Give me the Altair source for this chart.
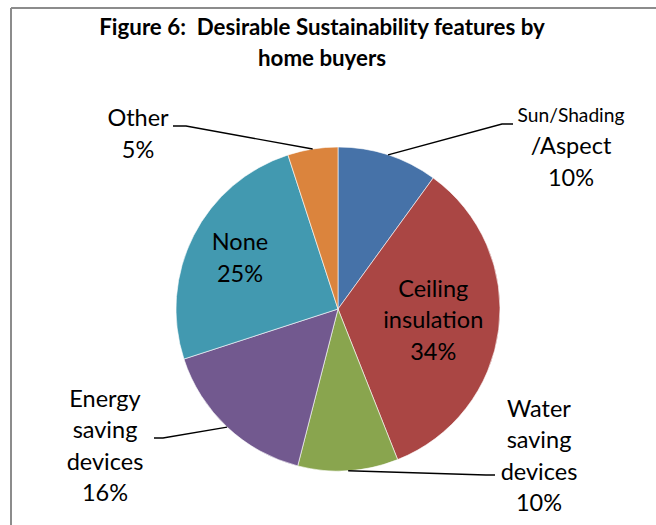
import math

import altair as alt
import pandas as pd

# ---- data -------------------------------------------------------------
categories = [
    "Sun/Shading\n/Aspect",
    "Ceiling\ninsulation",
    "Water\nsaving\ndevices",
    "Energy\nsaving\ndevices",
    "None",
    "Other",
]
shares = [10, 34, 10, 16, 25, 5]
colors = ["#4672A8", "#AA4644", "#89A54E", "#72598F", "#4299B0", "#DB843D"]
title_lines = ["Figure 6:\u00a0 Desirable Sustainability features by", "home buyers"]

# ---- layout (pixels, relative to the pie centre) ------------------------
W, H = 656, 525
CX, CY = 338, 309          # pie centre on the page
R = 162                    # pie radius
FONT = "Lato"
LABEL_SIZE = 23.5
SMALL_SIZE = 19.2
TITLE_SIZE = 22.3
LINE_H = 31.5

# labels drawn inside their slice: distance from the centre along the mid-angle
INSIDE_R = {"Ceiling\ninsulation": 96, "None": 110}
# labels drawn outside: block centre, leader elbow, leader end
OUTSIDE = {
    "Sun/Shading\n/Aspect": ((233, -162), (164, -185), (175, -185)),
    "Water\nsaving\ndevices": ((201, 148), (148, 166), (157, 166)),
    "Energy\nsaving\ndevices": ((-233, 138), (-175, 129), (-184, 129)),
    "Other": ((-200, -174), (-152, -183), (-165, -183)),
}
SMALL_FIRST_LINE = {"Sun/Shading\n/Aspect"}
TITLE_XY = (-16, [-281, -250])
FRAME = {"left": -327, "top": -301, "right": W - CX, "bottom": H - CY}

# ---- derived tables ------------------------------------------------------
total = sum(shares)
pie_rows, text_rows, leader_rows = [], [], []
start = 0.0
for i, (cat, val) in enumerate(zip(categories, shares)):
    mid = 2 * math.pi * (start + val / 2) / total
    start += val
    pie_rows.append({"category": cat, "share": val, "idx": i})

    if cat in INSIDE_R:
        r = INSIDE_R[cat]
        bx, by = r * math.sin(mid), -r * math.cos(mid)
    else:
        (bx, by), elbow, end = OUTSIDE[cat]
        edge = (R * math.sin(mid), -R * math.cos(mid))
        for k, (px, py) in enumerate([edge, elbow, end]):
            leader_rows.append({"category": cat, "k": k, "x": px, "y": py})

    lines = cat.split("\n") + [f"{val}%"]
    n = len(lines)
    for j, line in enumerate(lines):
        size = SMALL_SIZE if (j == 0 and cat in SMALL_FIRST_LINE) else LABEL_SIZE
        text_rows.append({
            "text": line,
            "x": bx,
            "y": by + (j - (n - 1) / 2) * LINE_H,
            "fs": size,
        })

pie_df = pd.DataFrame(pie_rows)
text_df = pd.DataFrame(text_rows)
leader_df = pd.DataFrame(leader_rows)
title_df = pd.DataFrame({"text": title_lines, "x": TITLE_XY[0], "y": TITLE_XY[1]})
frame_df = pd.DataFrame([
    {"x": FRAME["left"], "x2": FRAME["right"], "y": FRAME["top"], "y2": FRAME["top"]},
    {"x": FRAME["left"], "x2": FRAME["left"], "y": FRAME["top"], "y2": FRAME["bottom"]},
])

# ---- scales ---------------------------------------------------------------
xs = alt.Scale(domain=[-CX, W - CX], range=[0, W], nice=False, zero=False)
ys = alt.Scale(domain=[-CY, H - CY], reverse=True, nice=False, zero=False)


def X(field):
    return alt.X(field, type="quantitative", scale=xs, axis=None)


def Y(field):
    return alt.Y(field, type="quantitative", scale=ys, axis=None)


frame = alt.Chart(frame_df).mark_rule(color="#8c8c8c", strokeWidth=2).encode(
    x=X("x"), x2="x2", y=Y("y"), y2="y2"
)

pie = alt.Chart(pie_df).mark_arc(outerRadius=R, stroke="white", strokeWidth=0.6).encode(
    theta=alt.Theta("share:Q", stack=True),
    color=alt.Color("category:N", scale=alt.Scale(domain=categories, range=colors), legend=None),
    order=alt.Order("idx:Q"),
    x=alt.XDatum(0, scale=xs, axis=None),
    y=alt.YDatum(0, scale=ys, axis=None),
)

leaders = alt.Chart(leader_df).mark_line(color="black", strokeWidth=1.4).encode(
    x=X("x"), y=Y("y"), detail="category:N", order="k:Q"
)

labels = alt.Chart(text_df).mark_text(
    font=FONT, color="black", align="center", baseline="middle"
).encode(
    x=X("x"), y=Y("y"), text="text:N", size=alt.Size("fs:Q", scale=None, legend=None)
)

title = alt.Chart(title_df).mark_text(
    font=FONT, fontWeight="bold", fontSize=TITLE_SIZE, color="black",
    align="center", baseline="middle"
).encode(x=X("x"), y=Y("y"), text="text:N")

chart = (
    alt.layer(frame, pie, leaders, labels, title)
    .properties(width=W, height=H, padding=0, autosize=alt.AutoSizeParams(type="none"),
                background="white")
    .configure_view(stroke=None)
)

chart.save("out.html", embed_options={"renderer": "svg", "actions": False})
